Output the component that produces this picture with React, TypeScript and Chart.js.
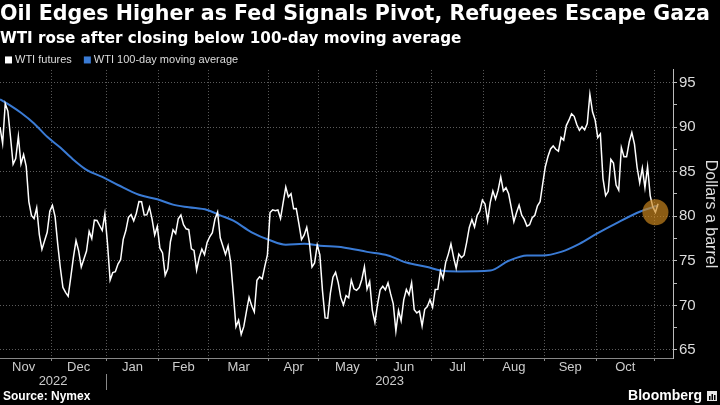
import React, { useEffect, useRef } from "react";
import { Chart, registerables } from "chart.js";

Chart.register(...registerables);

const TITLE = "Oil Edges Higher as Fed Signals Pivot, Refugees Escape Gaza";
const SUBTITLE = "WTI rose after closing below 100-day moving average";
const SOURCE = "Source: Nymex";
const BRAND = "Bloomberg";
const Y_TITLE = "Dollars a barrel";
const SERIES_WTI = "WTI futures";
const SERIES_MA = "WTI 100-day moving average";

// Trading-day index 0 = 2 Nov 2022 ... 251 = 2 Nov 2023
const wtiFutures: number[] = [
  // Nov 2022
  90.0, 88.17, 92.61, 91.79, 88.91, 85.83, 86.47, 88.96, 85.87, 86.92,
  85.59, 81.64, 80.08, 79.73, 80.95, 77.94, 76.28, 77.24, 78.2, 80.55,
  // Dec 2022
  81.22, 79.98, 76.93, 74.25, 72.01, 71.46, 71.02, 73.17, 75.39, 77.28,
  76.11, 74.29, 75.19, 76.09, 78.29, 77.49, 79.56, 79.53, 78.96, 78.4, 80.26,
  // Jan 2023
  76.93, 72.84, 73.67, 73.77, 74.63, 75.12, 77.41, 78.39, 79.86, 80.18,
  79.48, 80.33, 81.64, 81.62, 80.13, 80.15, 81.01, 79.68, 77.9, 78.87,
  // Feb
  76.41, 75.88, 73.39, 74.11, 77.14, 78.47, 78.06, 79.72, 80.14, 79.06,
  78.59, 78.49, 76.34, 76.16, 73.95, 75.39, 76.32, 75.68, 77.05,
  // Mar
  77.69, 78.16, 79.68, 80.46, 77.58, 76.66, 75.72, 76.68, 74.8, 71.33,
  67.61, 68.35, 66.74, 67.64, 69.33, 70.9, 69.96, 69.26, 72.81, 73.2,
  72.97, 74.37, 75.67,
  // Apr
  80.42, 80.71, 80.61, 80.7, 79.74, 81.53, 83.26, 82.16, 82.52, 80.83,
  80.86, 79.16, 77.37, 77.87, 78.76, 77.07, 74.3, 74.76, 76.78,
  // May
  75.66, 71.66, 68.6, 68.56, 71.34, 73.16, 73.71, 72.56, 70.87, 70.04,
  71.11, 70.86, 72.83, 71.86, 71.69, 71.99, 72.91, 74.34, 71.83, 72.67,
  69.46, 68.09,
  // Jun
  70.1, 71.74, 72.15, 71.74, 72.53, 71.29, 70.17, 67.12, 69.42, 68.27,
  70.62, 71.78, 71.19, 72.53, 69.51, 69.16, 69.37, 67.7, 69.56, 69.86, 70.64,
  // Jul
  69.79, 71.79, 71.8, 73.86, 72.99, 74.83, 75.75, 76.89, 75.42, 74.15,
  75.75, 75.35, 75.63, 77.07, 78.74, 79.63, 78.78, 80.09, 80.58, 81.8,
  // Aug
  81.37, 79.49, 81.55, 82.82, 81.94, 82.92, 84.4, 82.82, 83.19, 82.51,
  80.99, 79.38, 80.39, 81.25, 80.12, 79.64, 78.89, 79.05, 79.83, 80.1,
  81.16, 81.63, 83.63,
  // Sep
  85.55, 86.69, 87.54, 87.87, 87.51, 87.29, 88.84, 88.52, 90.16, 90.77,
  91.48, 91.2, 90.28, 89.63, 90.03, 89.68, 90.39, 93.68, 91.71, 90.79,
  // Oct
  88.82, 89.23, 84.22, 82.31, 82.79, 86.38, 85.97, 83.49, 82.91, 87.69,
  86.66, 86.66, 88.32, 89.37, 88.08, 85.49, 83.74, 85.39, 83.21, 85.54,
  82.31, 81.02,
  // Nov 2023
  80.44, 81.4,
];

// 100-day moving average, read at sampled trading days
const maDays: number[] = [
  0, 4, 8, 13, 18, 23, 27, 33, 39, 45, 53, 60, 66, 72, 79, 84, 89, 96,
  103, 109, 116, 122, 131, 140, 148, 155, 163, 168, 175, 187, 194, 201,
  207, 214, 221, 228, 235, 244, 251,
];
const maValues: number[] = [
  93.1, 92.4, 91.6, 90.4, 88.9, 87.7, 86.6, 85.2, 84.4, 83.5, 82.4, 81.9,
  81.3, 81.0, 80.7, 80.1, 79.5, 78.2, 77.3, 76.8, 76.9, 76.7, 76.5, 76.0,
  75.6, 74.8, 74.3, 73.9, 73.8, 73.9, 75.0, 75.6, 75.6, 76.0, 76.9, 78.1,
  79.2, 80.5, 81.2,
];

const monthLabels = ["Nov", "Dec", "Jan", "Feb", "Mar", "Apr", "May", "Jun", "Jul", "Aug", "Sep", "Oct"];
// first trading day of each month (index), last entry = Nov 2023
const monthStartDays = [-1, 20, 41, 61, 80, 103, 122, 144, 165, 185, 208, 228, 250];
const yearLabels = ["2022", "2023"];
const yearStartDays = [-1, 41];
const yMajorTicks = [65, 70, 75, 80, 85, 90, 95];
const yMinorTicks = [67.5, 72.5, 77.5, 82.5, 87.5, 92.5];
const highlightDay = 250;

const X_MIN = 0;
const X_MAX = 256.7;
const Y_MIN = 64.1;
const Y_MAX = 96.4;

const FONT = "'Liberation Sans', Arial, Helvetica, sans-serif";
const HEAD_FONT = "'DejaVu Sans', Verdana, sans-serif";
const BLUE = "#3a7bd5";
const GRID = "#5c5c5c";

export default function App() {
  const ref = useRef<HTMLCanvasElement>(null);

  useEffect(() => {
    document.body.style.margin = "0";
    document.body.style.background = "#000";
    const canvas = ref.current;
    if (!canvas) return;

    const boundaries = monthStartDays.map((d) => d - 0.5).filter((v) => v >= X_MIN && v <= X_MAX);
    const boundarySet = new Set(boundaries);
    const monthMid = new Map<number, string>();
    monthLabels.forEach((m, i) => {
      monthMid.set((monthStartDays[i] + monthStartDays[i + 1]) / 2 - 0.5, m);
    });
    const yearMid = new Map<number, string>();
    yearLabels.forEach((y, i) => {
      const s = Math.max(X_MIN, yearStartDays[i] - 0.5);
      const e = i + 1 < yearStartDays.length ? yearStartDays[i + 1] - 0.5 : X_MAX;
      yearMid.set((s + e) / 2, y);
    });
    const yearSeparators = yearStartDays.slice(1).map((d) => d - 0.5);
    const majorSet = new Set(yMajorTicks);

    const legendPlugin = {
      id: "customLegend",
      afterDraw(chart: any) {
        const ctx = chart.ctx;
        const y = chart.chartArea.top - 10;
        let x = 5;
        ctx.save();
        ctx.font = `11px ${FONT}`;
        ctx.textBaseline = "middle";
        chart.data.datasets.forEach((ds: any) => {
          ctx.fillStyle = ds.borderColor;
          ctx.fillRect(x, y - 3.5, 7, 7);
          x += 10;
          ctx.fillStyle = "#dddddd";
          ctx.fillText(ds.label, x, y);
          x += ctx.measureText(ds.label).width + 12;
        });
        ctx.restore();
      },
    };

    const highlightPlugin = {
      id: "highlight",
      afterDatasetsDraw(chart: any) {
        const ctx = chart.ctx;
        const xs = chart.scales.x;
        const ys = chart.scales.y;
        const px = xs.getPixelForValue(highlightDay);
        const py = ys.getPixelForValue(wtiFutures[highlightDay]);
        ctx.save();
        ctx.beginPath();
        ctx.arc(px, py, 13, 0, Math.PI * 2);
        ctx.fillStyle = "rgba(205,135,30,0.68)";
        ctx.fill();
        ctx.restore();
      },
    };

    const footerPlugin = {
      id: "footer",
      afterDraw(chart: any) {
        const ctx = chart.ctx;
        const xs = chart.scales.x;
        const yr = chart.scales.xYear;
        ctx.save();
        ctx.strokeStyle = "#888888";
        ctx.lineWidth = 1;
        yearSeparators.forEach((v) => {
          const px = Math.round(xs.getPixelForValue(v)) + 0.5;
          ctx.beginPath();
          ctx.moveTo(px, yr.top);
          ctx.lineTo(px, yr.bottom + 1);
          ctx.stroke();
        });
        const W = chart.width;
        const H = chart.height;
        ctx.fillStyle = "#ffffff";
        ctx.textBaseline = "alphabetic";
        ctx.font = `bold 12px ${FONT}`;
        ctx.textAlign = "left";
        ctx.fillText(SOURCE, 3, H - 5);
        ctx.font = `bold 14px ${FONT}`;
        ctx.textAlign = "right";
        ctx.fillText(BRAND, W - 18, H - 5);
        const lx = W - 13;
        const ly = H - 14;
        ctx.fillStyle = "#e8e8e8";
        ctx.fillRect(lx, ly, 10, 10);
        ctx.fillStyle = "#000";
        ctx.fillRect(lx + 2, ly + 5, 1.5, 4);
        ctx.fillRect(lx + 4.5, ly + 3, 1.5, 6);
        ctx.fillRect(lx + 7, ly + 4, 1.5, 5);
        ctx.restore();
      },
    };

    const chart = new Chart(canvas, {
      type: "line",
      data: {
        datasets: [
          {
            label: SERIES_WTI,
            data: wtiFutures.map((v, i) => ({ x: i, y: v })),
            borderColor: "#ffffff",
            backgroundColor: "#ffffff",
            borderWidth: 1.5,
            pointRadius: 0,
            tension: 0,
            fill: false,
          },
          {
            label: SERIES_MA,
            data: maDays.map((d, i) => ({ x: d, y: maValues[i] })),
            borderColor: BLUE,
            backgroundColor: BLUE,
            borderWidth: 2,
            pointRadius: 0,
            cubicInterpolationMode: "monotone",
            fill: false,
          },
        ],
      },
      options: {
        responsive: false,
        animation: false,
        events: [],
        layout: { padding: { top: 0, left: 0, right: 0, bottom: 16 } },
        plugins: {
          legend: { display: false },
          tooltip: { enabled: false },
          title: {
            display: true,
            text: TITLE,
            align: "start",
            color: "#ffffff",
            font: { family: HEAD_FONT, size: 20.6, weight: "bold", lineHeight: 1.2 },
            padding: { top: 2, bottom: 0 },
          },
          subtitle: {
            display: true,
            text: SUBTITLE,
            align: "start",
            color: "#ffffff",
            font: { family: HEAD_FONT, size: 15.2, weight: "bold", lineHeight: 1.2 },
            padding: { top: 3, bottom: 22 },
          },
        },
        scales: {
          x: {
            type: "linear",
            position: "bottom",
            min: X_MIN,
            max: X_MAX,
            afterBuildTicks: (s: any) => {
              const vals = [...boundaries, ...Array.from(monthMid.keys())].sort((a, b) => a - b);
              s.ticks = vals.map((value) => ({ value }));
            },
            ticks: {
              autoSkip: false,
              maxRotation: 0,
              padding: 0,
              color: "#cccccc",
              font: { family: FONT, size: 13, lineHeight: 1 },
              callback: (v: any) => monthMid.get(v) ?? "",
            },
            grid: {
              color: (c: any) => (c.tick && boundarySet.has(c.tick.value) ? GRID : "transparent"),
              tickColor: (c: any) => (c.tick && boundarySet.has(c.tick.value) ? "#888888" : "transparent"),
              tickLength: 3,
              lineWidth: 1,
            },
            border: { display: true, color: "#888888", dash: [1, 2] },
          },
          xYear: {
            type: "linear",
            position: "bottom",
            min: X_MIN,
            max: X_MAX,
            afterBuildTicks: (s: any) => {
              s.ticks = Array.from(yearMid.keys()).map((value) => ({ value }));
            },
            ticks: {
              autoSkip: false,
              maxRotation: 0,
              padding: 1,
              color: "#cccccc",
              font: { family: FONT, size: 13, lineHeight: 1 },
              callback: (v: any) => yearMid.get(v) ?? "",
            },
            grid: { display: false, drawTicks: false, tickLength: 0 },
            border: { display: false },
          },
          y: {
            type: "linear",
            position: "right",
            min: Y_MIN,
            max: Y_MAX,
            afterBuildTicks: (s: any) => {
              s.ticks = [...yMajorTicks, ...yMinorTicks].sort((a, b) => a - b).map((value) => ({ value }));
            },
            afterFit: (s: any) => {
              s.width = 47;
            },
            ticks: {
              padding: 2,
              color: "#dddddd",
              font: { family: FONT, size: 15 },
              callback: (v: any) => (majorSet.has(v) ? String(v) : ""),
            },
            grid: {
              color: (c: any) => (c.tick && majorSet.has(c.tick.value) ? GRID : "transparent"),
              tickColor: "#bbbbbb",
              tickLength: 4,
            },
            border: { display: true, color: "#bbbbbb", dash: [1, 2] },
            title: {
              display: true,
              text: Y_TITLE,
              color: "#dddddd",
              font: { family: FONT, size: 16 },
              padding: 0,
            },
          },
        },
      },
      plugins: [legendPlugin, highlightPlugin, footerPlugin],
    } as any);

    return () => chart.destroy();
  }, []);

  return (
    <div style={{ position: "absolute", left: 0, top: 0, width: 720, height: 405, background: "#000" }}>
      <canvas ref={ref} width={720} height={405} style={{ display: "block" }} />
    </div>
  );
}
